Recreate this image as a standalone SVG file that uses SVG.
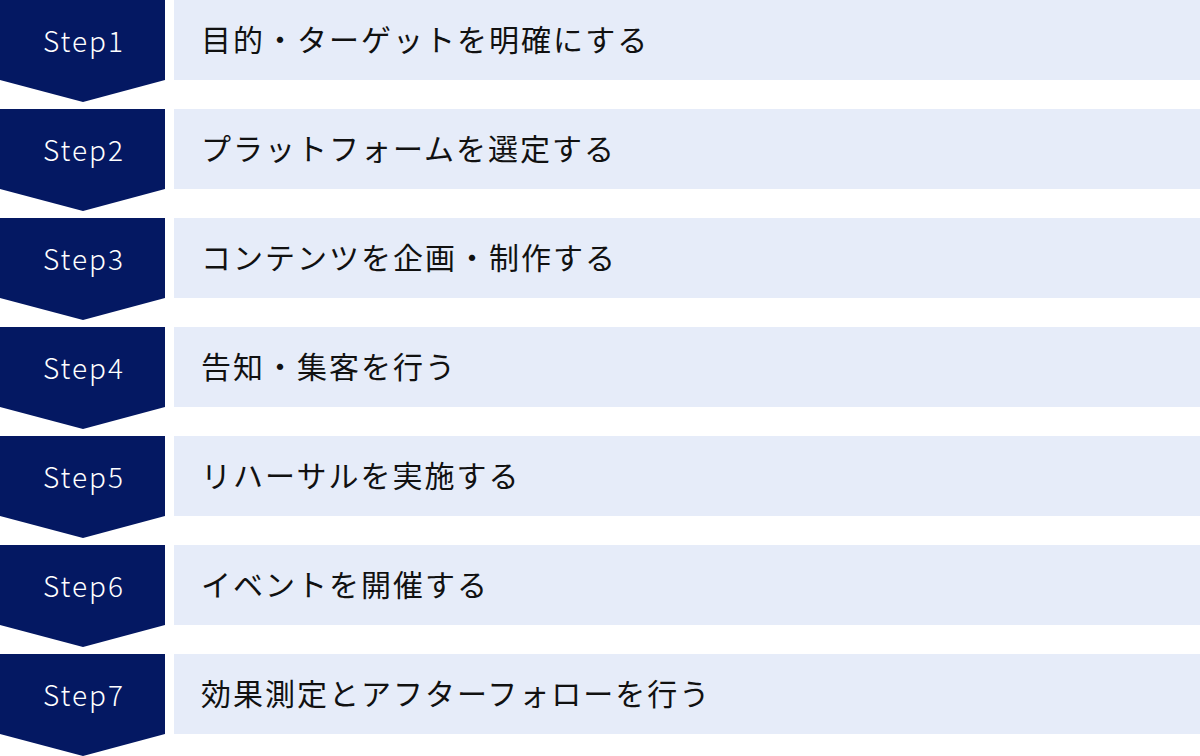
<svg xmlns="http://www.w3.org/2000/svg" width="1200" height="756" viewBox="0 0 1200 756">
<defs>
<style>
.chev{fill:#041862}
.box{fill:#e6ecf9}
.step{font-family:"Noto Sans CJK JP","Noto Sans",sans-serif;font-size:28px;font-weight:300;fill:#ffffff;text-anchor:middle;letter-spacing:2px}
.lbl{font-family:"Noto Sans CJK JP","Noto Sans CJK SC",sans-serif;font-size:30px;font-weight:400;fill:#111111;letter-spacing:2px}
</style>
<path id="chevShape" class="chev" d="M0,0 H165 V80 L83,102 L0,80 Z"/>
</defs>
<rect width="1200" height="756" fill="#ffffff"/>
<g id="connectors"></g>
<g id="step1" transform="translate(0,0)">
<use href="#chevShape"/><rect class="box" x="174" y="0" width="1026" height="80"/>
<text class="step" x="84" y="52">Step1</text><text class="lbl" x="201" y="51">目的・ターゲットを明確にする</text>
</g>
<g id="step2" transform="translate(0,109)">
<use href="#chevShape"/><rect class="box" x="174" y="0" width="1026" height="80"/>
<text class="step" x="84" y="52">Step2</text><text class="lbl" x="201" y="51">プラットフォームを選定する</text>
</g>
<g id="step3" transform="translate(0,218)">
<use href="#chevShape"/><rect class="box" x="174" y="0" width="1026" height="80"/>
<text class="step" x="84" y="52">Step3</text><text class="lbl" x="201" y="51">コンテンツを企画・制作する</text>
</g>
<g id="step4" transform="translate(0,327)">
<use href="#chevShape"/><rect class="box" x="174" y="0" width="1026" height="80"/>
<text class="step" x="84" y="52">Step4</text><text class="lbl" x="201" y="51">告知・集客を行う</text>
</g>
<g id="step5" transform="translate(0,436)">
<use href="#chevShape"/><rect class="box" x="174" y="0" width="1026" height="80"/>
<text class="step" x="84" y="52">Step5</text><text class="lbl" x="201" y="51">リハーサルを実施する</text>
</g>
<g id="step6" transform="translate(0,545)">
<use href="#chevShape"/><rect class="box" x="174" y="0" width="1026" height="80"/>
<text class="step" x="84" y="52">Step6</text><text class="lbl" x="201" y="51">イベントを開催する</text>
</g>
<g id="step7" transform="translate(0,654)">
<use href="#chevShape"/><rect class="box" x="174" y="0" width="1026" height="80"/>
<text class="step" x="84" y="52">Step7</text><text class="lbl" x="201" y="51">効果測定とアフターフォローを行う</text>
</g>
</svg>
